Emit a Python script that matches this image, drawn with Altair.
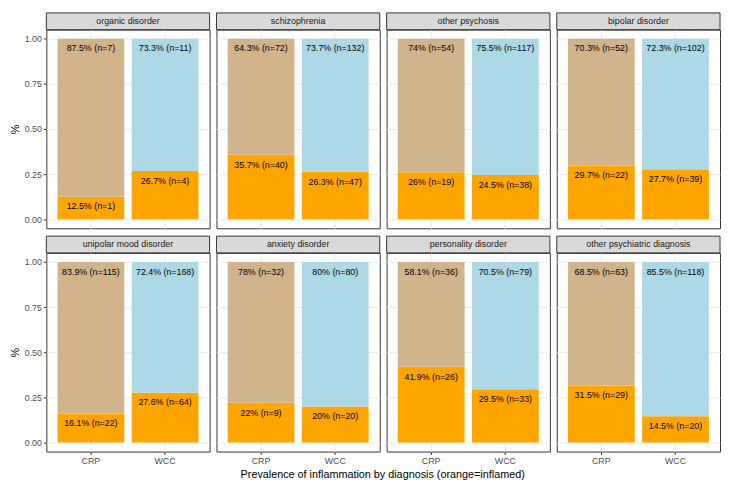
import altair as alt
import pandas as pd

diagnoses = ["organic disorder", "schizophrenia", "other psychosis", "bipolar disorder",
             "unipolar mood disorder", "anxiety disorder", "personality disorder",
             "other psychiatric diagnosis"]
tests = ["CRP", "WCC"]

crp_pct_inflamed = [12.5, 35.7, 26, 29.7, 16.1, 22, 41.9, 31.5]
crp_n_inflamed = [1, 40, 19, 22, 22, 9, 26, 29]
crp_pct_not = [87.5, 64.3, 74, 70.3, 83.9, 78, 58.1, 68.5]
crp_n_not = [7, 72, 54, 52, 115, 32, 36, 63]

wcc_pct_inflamed = [26.7, 26.3, 24.5, 27.7, 27.6, 20, 29.5, 14.5]
wcc_n_inflamed = [4, 47, 38, 39, 64, 20, 33, 20]
wcc_pct_not = [73.3, 73.7, 75.5, 72.3, 72.4, 80, 70.5, 85.5]
wcc_n_not = [11, 132, 117, 102, 168, 80, 79, 118]

fill_keys = ["CRP not inflamed", "WCC not inflamed", "inflamed"]
fill_colors = ["#D2B48C", "#ADD8E6", "#FFA500"]

x_title = "Prevalence of inflammation by diagnosis (orange=inflamed)"


def fmt(p):
    return ("%g" % p)


rows = []
series = {
    "CRP": (crp_pct_inflamed, crp_n_inflamed, crp_pct_not, crp_n_not),
    "WCC": (wcc_pct_inflamed, wcc_n_inflamed, wcc_pct_not, wcc_n_not),
}
for t in tests:
    pi, ni, pn, nn = series[t]
    for i, d in enumerate(diagnoses):
        rows.append(dict(diagnosis=d, test=t, status="inflamed", fillkey="inflamed",
                         frac=pi[i] / 100, ytop=pi[i] / 100, order=0,
                         label=f"{fmt(pi[i])}% (n={ni[i]})"))
        rows.append(dict(diagnosis=d, test=t, status="not", fillkey=f"{t} not inflamed",
                         frac=pn[i] / 100, ytop=(pi[i] + pn[i]) / 100, order=1,
                         label=f"{fmt(pn[i])}% (n={nn[i]})"))
df = pd.DataFrame(rows)

W = 166
H = 202
STRIP = 17
FONT = "Liberation Sans"

yscale = alt.Scale(domain=[-0.05, 1.05], nice=False, zero=False)
xscale = alt.Scale(domain=tests, paddingInner=0.1, paddingOuter=0.15)
color_scale = alt.Scale(domain=fill_keys, range=fill_colors)

minor = "datum.value % 0.25 != 0"
yvalues = [0, 0.125, 0.25, 0.375, 0.5, 0.625, 0.75, 0.875, 1.0]
grid_color = {"condition": {"test": minor, "value": "#F4F4F4"}, "value": "#EBEBEB"}
grid_width = {"condition": {"test": minor, "value": 0.6}, "value": 1}


def panel(idx):
    d = diagnoses[idx]
    first_col = idx % 4 == 0
    bottom_row = idx >= 4
    if first_col:
        yaxis = alt.Axis(values=yvalues,
                         labelExpr="datum.value % 0.25 == 0 ? format(datum.value, '.2f') : ''",
                         gridColor=grid_color, gridWidth=grid_width,
                         tickOpacity={"condition": {"test": minor, "value": 0}, "value": 1},
                         title="%")
    else:
        yaxis = alt.Axis(values=yvalues, labels=False, ticks=False, title=None,
                         gridColor=grid_color, gridWidth=grid_width)
    if bottom_row:
        xaxis = alt.Axis(title=None, bandPosition=0.5, labelAngle=0, grid=True,
                         gridColor="#EBEBEB", gridWidth=1)
    else:
        xaxis = alt.Axis(title=None, bandPosition=0.5, labels=False, ticks=False, grid=True,
                         gridColor="#EBEBEB", gridWidth=1)

    base = alt.Chart(df).transform_filter(alt.datum.diagnosis == d)

    bars = base.mark_bar().encode(
        x=alt.X("test:N", scale=xscale, axis=xaxis),
        y=alt.Y("frac:Q", stack="zero", scale=yscale, axis=yaxis),
        order=alt.Order("order:Q"),
        color=alt.Color("fillkey:N", scale=color_scale, legend=None),
    )
    labels = base.mark_text(baseline="middle", dy=10, fontSize=9, font=FONT,
                            color="#000000").encode(
        x=alt.X("test:N", scale=xscale),
        y=alt.Y("ytop:Q", scale=yscale),
        text="label:N",
    )
    one = base.transform_filter("datum.test == 'CRP' && datum.status == 'inflamed'")
    strip_rect = one.mark_rect(fill="#D9D9D9", stroke="#333333", strokeWidth=1,
                               clip=False).encode(
        x=alt.value(0), x2=alt.value(W), y=alt.value(-STRIP), y2=alt.value(0)
    )
    strip_text = one.mark_text(baseline="middle", fontSize=9, font=FONT,
                               color="#1A1A1A", clip=False).encode(
        x=alt.value(W / 2), y=alt.value(-STRIP / 2), text="diagnosis:N"
    )
    return alt.layer(bars, labels, strip_rect, strip_text).properties(width=W, height=H)


row1 = alt.hconcat(*[panel(i) for i in range(4)], spacing=5)
row2 = alt.hconcat(*[panel(i) for i in range(4, 8)], spacing=5)

chart = alt.vconcat(row1, row2, spacing=6).properties(
    title=alt.TitleParams(x_title, orient="bottom", anchor="middle", fontSize=11,
                          font=FONT, fontWeight="normal", color="#000000", offset=3, dx=18),
    padding={"left": 0, "top": 0, "right": 0, "bottom": 0},
).configure_view(
    stroke="#333333", strokeWidth=1
).configure_axis(
    labelFont=FONT, titleFont=FONT, labelFontSize=9, labelColor="#4D4D4D",
    titleFontSize=11, titleFontWeight="normal", titleColor="#000000",
    tickColor="#333333", tickSize=3, domain=False, labelPadding=2,
).configure_axisY(titlePadding=4)

chart.save("out.html", embed_options={"renderer": "svg", "actions": False})
